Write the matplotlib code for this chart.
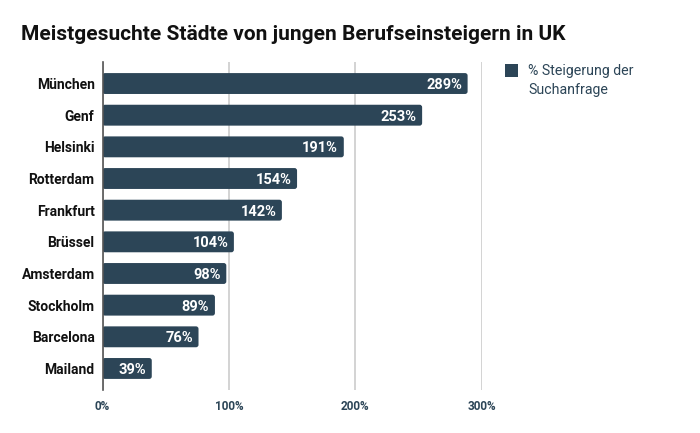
import matplotlib
matplotlib.use('Agg')
from matplotlib import pyplot as plt
from matplotlib import patches

cities = ['München', 'Genf', 'Helsinki', 'Rotterdam', 'Frankfurt', 'Brüssel',
          'Amsterdam', 'Stockholm', 'Barcelona', 'Mailand']
increase = [289, 253, 191, 154, 142, 104, 98, 89, 76, 39]
x_ticks = [0, 100, 200, 300]
title = 'Meistgesuchte Städte von jungen Berufseinsteigern in UK'
series_name = '% Steigerung der\nSuchanfrage'

BAR_COLOR = '#2c4557'
W, H = 700, 433

plt.rcParams['font.family'] = ['Roboto', 'DejaVu Sans']

fig = plt.figure(figsize=(W / 100, H / 100), dpi=100)
# axes box in pixels: left 102.5, right 481.5, top 62, bottom 390
ax = fig.add_axes([102.5 / W, 1 - 390 / H, (481.5 - 102.5) / W, (390 - 62) / H])
ax.set_xlim(0, 300)
ax.set_ylim(9.68, -0.68)

for s in ['top', 'right', 'bottom']:
    ax.spines[s].set_visible(False)
ax.spines['left'].set_color('#555555')
ax.spines['left'].set_linewidth(1.2)
ax.spines['left'].set_zorder(5)

ax.set_xticks(x_ticks)
ax.set_xticklabels(['{}%'.format(t) for t in x_ticks], fontsize=8.5,
                   fontweight='bold', color='#2c4557')
ax.set_yticks(range(len(cities)))
ax.set_yticklabels(cities, fontsize=10, fontweight='bold', color='#111111')
ax.tick_params(axis='both', length=0)
ax.tick_params(axis='x', pad=7)
ax.tick_params(axis='y', pad=5.7)
ax.grid(axis='x', color='#cccccc', linewidth=1.2)
ax.set_axisbelow(True)

# rounded corners need the aspect between the x and y data units
aspect = (1 / 31.67) / (1 / 1.263)
bar_h = 0.66
for i, val in enumerate(increase):
    ax.add_patch(patches.FancyBboxPatch(
        (0, i - bar_h / 2), val, bar_h,
        boxstyle='round,pad=0,rounding_size=2', mutation_aspect=aspect,
        facecolor=BAR_COLOR, edgecolor='none', zorder=3))
    ax.text(val - 4.5, i, '{}%'.format(val), ha='right', va='center_baseline',
            color='white', fontsize=10.5, fontweight='bold', zorder=4)

fig.text(21 / W, 1 - 35 / H, title, fontsize=15.05, fontweight='bold',
         color='#111111', va='center', ha='left')

# legend placed by hand, the swatch is square and sits on the first line
fig.add_artist(patches.Rectangle((505 / W, 1 - 77 / H), 13 / W, 13 / H,
                                 transform=fig.transFigure, facecolor=BAR_COLOR,
                                 edgecolor='none'))
fig.text(528 / W, 1 - 64.5 / H, series_name, fontsize=10.2, color='#2c4557',
         va='top', ha='left', linespacing=1.42)

fig.savefig('out.png', dpi=100)
